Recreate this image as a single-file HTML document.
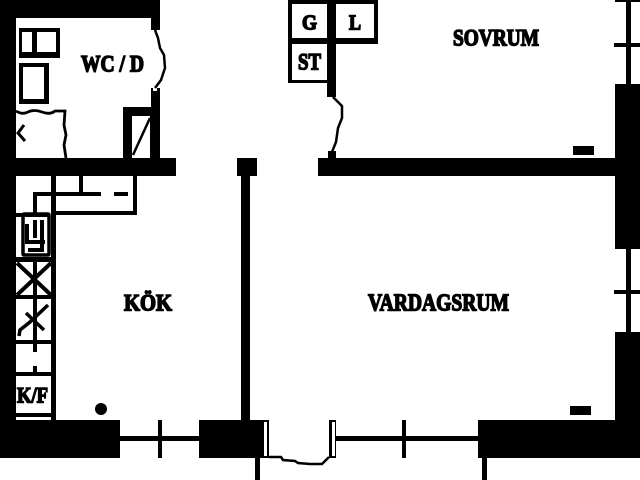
<!DOCTYPE html>
<html><head><meta charset="utf-8"><style>
html,body{margin:0;padding:0;background:#fff;width:640px;height:480px;overflow:hidden}
svg{display:block}
text{font-family:"Liberation Serif",serif;font-weight:bold;fill:#000;stroke:#000;stroke-width:1.5}
</style></head><body>
<svg width="640" height="480" viewBox="0 0 640 480" xmlns="http://www.w3.org/2000/svg">
<rect width="640" height="480" fill="#fff"/>
<g fill="#000">
<!-- WC walls -->
<rect x="0" y="0" width="160" height="18"/>
<rect x="0" y="0" width="16" height="458"/>
<rect x="151" y="0" width="9" height="30"/>
<rect x="151" y="88" width="9" height="70"/>
<rect x="0" y="158" width="176" height="18"/>
<!-- closet -->
<rect x="123" y="107" width="37" height="51"/>
<!-- WC fixtures -->
<rect x="19" y="28" width="41" height="30"/>
<rect x="19" y="63" width="30" height="41"/>
<!-- kitchen -->
<rect x="51" y="176" width="5" height="244"/>
<rect x="33" y="192" width="68" height="4"/>
<rect x="114" y="192" width="14" height="4"/>
<rect x="33" y="192" width="4" height="21"/>
<rect x="79" y="176" width="4" height="17"/>
<rect x="133" y="176" width="4" height="39"/>
<rect x="51" y="211" width="86" height="4"/>
<rect x="16" y="213" width="34" height="4"/>
<rect x="16" y="257" width="36" height="5"/>
<rect x="16" y="295" width="36" height="4"/>
<rect x="16" y="340" width="36" height="4"/>
<rect x="16" y="372" width="36" height="4"/>
<rect x="16" y="413" width="36" height="4"/>
<rect x="33" y="262" width="4" height="90"/>
<rect x="33" y="366" width="4" height="7"/>
<!-- bottom walls -->
<rect x="0" y="420" width="120" height="38"/>
<rect x="120" y="436" width="80" height="5"/>
<rect x="158" y="420" width="4" height="38"/>
<rect x="199" y="420" width="70" height="38"/>
<rect x="255" y="458" width="5" height="22"/>
<rect x="329" y="420" width="7" height="38"/>
<rect x="336" y="436" width="142" height="5"/>
<rect x="402" y="420" width="4" height="38"/>
<rect x="478" y="420" width="162" height="38"/>
<rect x="482" y="458" width="5" height="22"/>
<!-- partition -->
<rect x="241" y="176" width="9" height="244"/>
<rect x="237" y="158" width="20" height="18"/>
<rect x="318" y="158" width="297" height="18"/>
<!-- closets G L ST -->
<rect x="288" y="0" width="90" height="44"/>
<rect x="288" y="44" width="39" height="39"/>
<rect x="327" y="0" width="9" height="97"/>
<rect x="328" y="151" width="8" height="7"/>
<!-- right wall -->
<rect x="615" y="84" width="25" height="165"/>
<rect x="615" y="332" width="25" height="88"/>
<rect x="626" y="0" width="5" height="84"/>
<rect x="615" y="0" width="25" height="2"/>
<rect x="614" y="43" width="26" height="4"/>
<rect x="626" y="249" width="5" height="83"/>
<rect x="614" y="290" width="26" height="4"/>
<!-- radiators -->
<rect x="573" y="146" width="21" height="9"/>
<rect x="570" y="406" width="21" height="9"/>
<circle cx="101" cy="409" r="6"/>
</g>
<g fill="#fff">
<rect x="22" y="32" width="10" height="20"/>
<rect x="37" y="32" width="19" height="20"/>
<rect x="23" y="67" width="21" height="32"/>
<rect x="132" y="116" width="18" height="42"/>
<rect x="292" y="4" width="35" height="34"/>
<rect x="336" y="4" width="38" height="34"/>
<rect x="292" y="44" width="35" height="36"/>
<rect x="264" y="422" width="3" height="34"/>
<rect x="332" y="422" width="3" height="34"/>
<rect x="153" y="30" width="4" height="3"/>
<rect x="153" y="88" width="4" height="3"/>
</g>
<g fill="none" stroke="#000">
<path d="M16 111 Q22 115 28 112 T42 112 T55 111 L65 111 L64 125 L66 135 L64 145 L66 158" stroke-width="2.8"/>
<path d="M24 125 L18 133 L25 141" stroke-width="3"/>
<path d="M150 118 L133 155" stroke-width="2.5"/>
<path d="M155 30 L158 38 L160 48 L164 55 L165 68 L161 80 L155 88" stroke-width="2.5"/>
<path d="M333 97 L342 106 L342 118 L338 128 L336 142 L332 152" stroke-width="2.5"/>
<path d="M269 457 L281 457 L283 460 L295 461 L298 463 L310 464 L322 464 L329 457" stroke-width="2.5"/>
<!-- stove symbol -->
<rect x="23" y="214" width="26" height="41" stroke-width="3.5" rx="1"/>
<path d="M27 224 V242 H45 M35 220 V238 M42 220 V250 H28" stroke-width="4"/>
<!-- crosses -->
<path d="M17 263 L51 295 M51 263 L17 295" stroke-width="4"/>
<path d="M26 313 L44 330 M48 305 L30 322 L20 330 L19 336" stroke-width="3.5"/>
</g>
<text x="81" y="71.5" font-size="23" textLength="63" lengthAdjust="spacingAndGlyphs">WC / D</text>
<text x="453" y="45.5" font-size="23" textLength="86" lengthAdjust="spacingAndGlyphs">SOVRUM</text>
<text x="124" y="310.5" font-size="23" textLength="48" lengthAdjust="spacingAndGlyphs">KÖK</text>
<text x="368" y="310.5" font-size="24" textLength="141" lengthAdjust="spacingAndGlyphs">VARDAGSRUM</text>
<text x="302" y="29.5" font-size="21" textLength="15" lengthAdjust="spacingAndGlyphs">G</text>
<text x="349" y="29.5" font-size="21" textLength="12" lengthAdjust="spacingAndGlyphs">L</text>
<text x="298" y="69.5" font-size="23" textLength="23" lengthAdjust="spacingAndGlyphs">ST</text>
<text x="17" y="402.5" font-size="22" textLength="31" lengthAdjust="spacingAndGlyphs">K/F</text>
</svg>
</body></html>
